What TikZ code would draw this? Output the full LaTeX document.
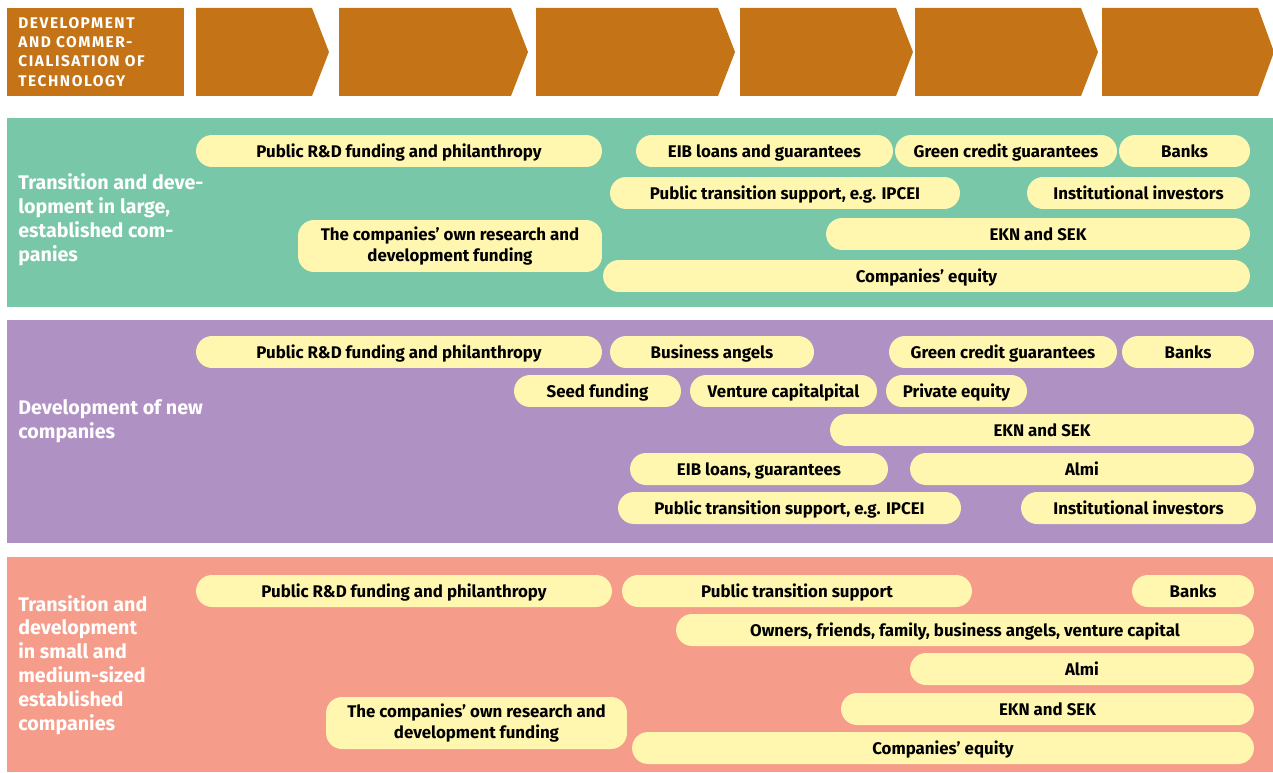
\documentclass[tikz,border=0pt]{standalone}
\usepackage{fontspec}
\setmainfont{Fira Sans}
\newcommand{\pillfont}{\fontsize{9.6}{12.4}\selectfont\bfseries}
\newcommand{\bandfont}{\fontsize{11.2}{13.6}\selectfont\bfseries}
\newcommand{\headfont}{\fontsize{8.8}{11}\selectfont\bfseries\addfontfeature{LetterSpace=10}}
\begin{document}
\begin{tikzpicture}[x=0.02cm, y=-0.02cm,
    pill/.style={fill=pillyellow, rounded corners=0.32cm, minimum height=0.64cm,
      inner sep=0pt, align=center, text=black, font=\pillfont,
      text height=0.92em, text depth=0.16em},
    tallpill/.style={pill, minimum height=1.04cm, text height=, text depth=},
    bandlabel/.style={anchor=west, align=left, text=white, font=\bandfont, inner sep=0pt}]
        \definecolor{headorange}{RGB}{196, 115, 22}
        \definecolor{bandgreen}{RGB}{119, 199, 168}
        \definecolor{bandpurple}{RGB}{176, 145, 196}
        \definecolor{bandsalmon}{RGB}{245, 156, 138}
        \definecolor{pillyellow}{RGB}{255, 247, 176}
        \useasboundingbox (0,0) rectangle (1273,773);

        % header row
        \fill[headorange] (7,8) rectangle (184,96);
        \node[anchor=north west, align=left, text=white, font=\headfont, inner sep=0pt] (head) at (18,17)
            {DEVELOPMENT\\AND COMMER-\\CIALISATION OF\\TECHNOLOGY};
        \foreach \a/\b/\c in {196/312/329, 339/511/528, 536/718/735, 740/896/913, 915/1081/1098, 1102/1258/1274}
            \fill[headorange] (\a,8) -- (\b,8) -- (\c,52) -- (\b,96) -- (\a,96) -- cycle;

        % large companies
        \fill[bandgreen] (7,118) rectangle (1273,307);
        \node[bandlabel] (large) at (18,220) {Transition and deve-\\lopment in large,\\established com-\\panies};
        \node[pill, minimum width=8.12cm] (gRD) at (399,151) {Public R\&D funding and philanthropy};
        \node[pill, minimum width=5.14cm] (gEIB) at (764.5,151) {EIB loans and guarantees};
        \node[pill, minimum width=4.44cm] (gGreen) at (1006,151) {Green credit guarantees};
        \node[pill, minimum width=2.62cm] (gBanks) at (1184.5,151) {Banks};
        \node[pill, minimum width=7.00cm] (gPublic) at (785,193) {Public transition support, e.g. IPCEI};
        \node[pill, minimum width=4.46cm] (gInst) at (1138.5,193) {Institutional investors};
        \node[tallpill, minimum width=6.08cm] (gOwn) at (450,246) {The companies’ own research and\\development funding};
        \node[pill, minimum width=8.48cm] (gEKN) at (1038,234) {EKN and SEK};
        \node[pill, minimum width=12.94cm] (gEquity) at (926.5,276) {Companies’ equity};

        % new companies
        \fill[bandpurple] (7,320) rectangle (1273,543);
        \node[bandlabel] (new) at (18,421) {Development of new\\companies};
        \node[pill, minimum width=8.12cm] (pRD) at (399,352) {Public R\&D funding and philanthropy};
        \node[pill, minimum width=4.08cm] (pAngels) at (712,352) {Business angels};
        \node[pill, minimum width=4.56cm] (pGreen) at (1003,352) {Green credit guarantees};
        \node[pill, minimum width=2.64cm] (pBanks) at (1188,352) {Banks};
        \node[pill, minimum width=3.34cm] (pSeed) at (597.5,391) {Seed funding};
        \node[pill, minimum width=3.74cm] (pVenture) at (783.5,391) {Venture capitalpital};
        \node[pill, minimum width=2.82cm] (pPrivate) at (956.5,391) {Private equity};
        \node[pill, minimum width=8.48cm] (pEKN) at (1042,430) {EKN and SEK};
        \node[pill, minimum width=5.16cm] (pEIB) at (759,469) {EIB loans, guarantees};
        \node[pill, minimum width=6.88cm] (pAlmi) at (1082,469) {Almi};
        \node[pill, minimum width=6.86cm] (pPublic) at (789.5,508) {Public transition support, e.g. IPCEI};
        \node[pill, minimum width=4.70cm] (pInst) at (1138.5,508) {Institutional investors};

        % small and medium-sized companies
        \fill[bandsalmon] (7,557) rectangle (1273,772);
        \node[bandlabel] (small) at (18,665) {Transition and\\development\\in small and\\medium-sized\\established\\companies};
        \node[pill, minimum width=8.32cm] (sRD) at (404,591) {Public R\&D funding and philanthropy};
        \node[pill, minimum width=7.00cm] (sPublic) at (797,591) {Public transition support};
        \node[pill, minimum width=2.44cm] (sBanks) at (1193,591) {Banks};
        \node[pill, minimum width=11.56cm] (sOwners) at (965,630) {Owners, friends, family, business angels, venture capital};
        \node[pill, minimum width=6.88cm] (sAlmi) at (1082,669) {Almi};
        \node[pill, minimum width=8.26cm] (sEKN) at (1047.5,709) {EKN and SEK};
        \node[tallpill, minimum width=6.02cm] (sOwn) at (476.5,723) {The companies’ own research and\\development funding};
        \node[pill, minimum width=12.44cm] (sEquity) at (943,748) {Companies’ equity};
    \end{tikzpicture}
\end{document}
